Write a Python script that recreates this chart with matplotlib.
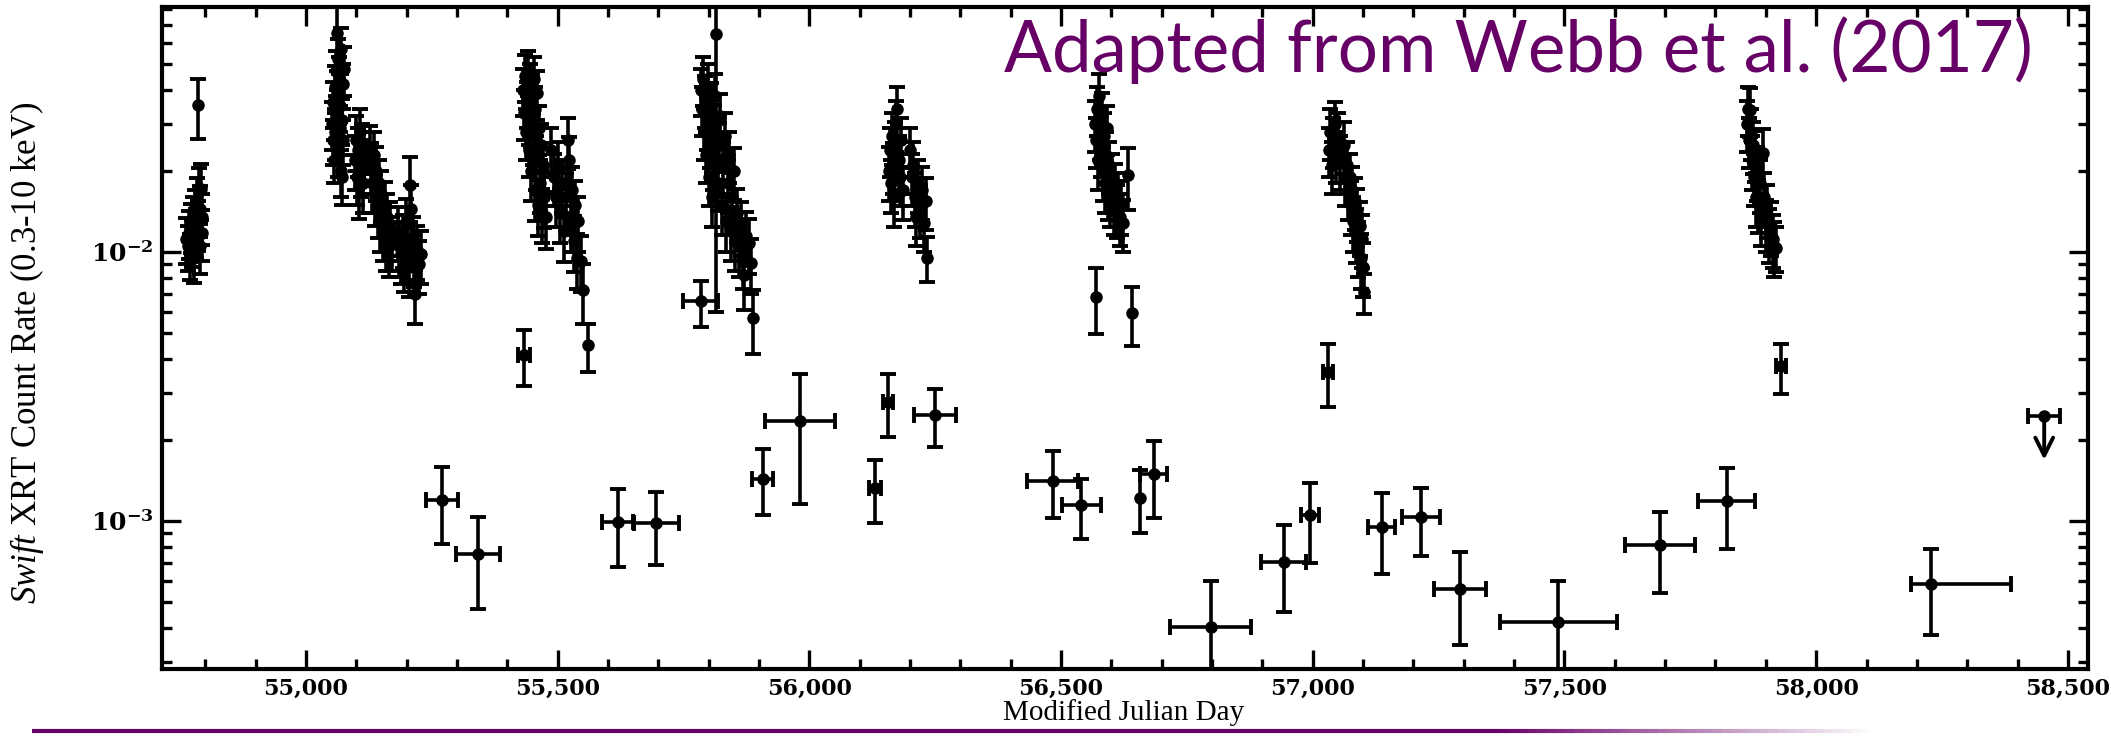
"""
HLX-1 Swift XRT light curve, redrawn after Webb et al. (2017).
"""

import numpy as np
import matplotlib
matplotlib.use("Agg")
import matplotlib.pyplot as plt
from matplotlib.ticker import MultipleLocator, FuncFormatter, LogLocator, NullFormatter
from matplotlib.collections import LineCollection

# ---------------------------------------------------------------------------
# Data: (MJD, count rate, 1-sigma error) per outburst
# ---------------------------------------------------------------------------
OUTBURST_2008 = [
    (54762, 0.0112, 0.0022), (54765, 0.0105, 0.0020), (54768, 0.0118, 0.0024),
    (54770, 0.0098, 0.0019), (54772, 0.0125, 0.0026), (54774, 0.0110, 0.0022),
    (54776, 0.0132, 0.0028), (54778, 0.0095, 0.0018), (54780, 0.0140, 0.0030),
    (54782, 0.0120, 0.0025), (54784, 0.0155, 0.0034), (54785, 0.0351, 0.0088),
    (54786, 0.0128, 0.0027), (54788, 0.0168, 0.0038), (54789, 0.0105, 0.0022),
    (54790, 0.0145, 0.0031), (54792, 0.0172, 0.0040), (54793, 0.0118, 0.0025),
    (54794, 0.0135, 0.0029),
]

OUTBURST_2009 = [
    (55052, 0.030, 0.006), (55053, 0.026, 0.005), (55054, 0.036, 0.007),
    (55056, 0.022, 0.004), (55057, 0.041, 0.008), (55058, 0.028, 0.006),
    (55060, 0.047, 0.009), (55061, 0.033, 0.007), (55062, 0.065, 0.018),
    (55063, 0.024, 0.005), (55064, 0.052, 0.010), (55065, 0.038, 0.008),
    (55066, 0.044, 0.009), (55067, 0.029, 0.006), (55068, 0.035, 0.007),
    (55069, 0.020, 0.004), (55070, 0.057, 0.011), (55071, 0.031, 0.006),
    (55072, 0.019, 0.004), (55073, 0.042, 0.008), (55074, 0.026, 0.005),
    (55075, 0.048, 0.010),
    (55098, 0.022, 0.005), (55100, 0.026, 0.006), (55102, 0.019, 0.004),
    (55104, 0.024, 0.005), (55106, 0.0175, 0.0042), (55108, 0.028, 0.006),
    (55110, 0.021, 0.005), (55112, 0.025, 0.005), (55114, 0.018, 0.004),
    (55116, 0.023, 0.005),
    (55128, 0.0245, 0.005), (55130, 0.021, 0.0045), (55132, 0.018, 0.004),
    (55135, 0.023, 0.005), (55138, 0.016, 0.0035), (55140, 0.020, 0.0045),
    (55143, 0.0145, 0.0032), (55146, 0.018, 0.004), (55148, 0.013, 0.003),
    (55150, 0.0165, 0.0036), (55153, 0.012, 0.0027), (55156, 0.015, 0.0033),
    (55158, 0.011, 0.0025), (55161, 0.0135, 0.003), (55164, 0.0105, 0.0024),
    (55167, 0.0125, 0.0028), (55170, 0.011, 0.0025),
    (55182, 0.0120, 0.0027), (55185, 0.0105, 0.0024), (55188, 0.0098, 0.0022),
    (55192, 0.0112, 0.0025), (55195, 0.0092, 0.0021), (55198, 0.0128, 0.0029),
    (55201, 0.0100, 0.0023), (55204, 0.0088, 0.0020), (55206, 0.0177, 0.0048),
    (55209, 0.0145, 0.0033), (55212, 0.0110, 0.0025), (55214, 0.0095, 0.0021),
    (55216, 0.0070, 0.0016), (55220, 0.0102, 0.0023), (55224, 0.0090, 0.0020),
    (55228, 0.0098, 0.0022),
]

OUTBURST_2010 = [
    (55432, 0.040, 0.008), (55434, 0.033, 0.007), (55436, 0.045, 0.009),
    (55438, 0.028, 0.006), (55440, 0.036, 0.007), (55441, 0.047, 0.009),
    (55443, 0.024, 0.005), (55444, 0.031, 0.006), (55446, 0.042, 0.008),
    (55448, 0.020, 0.0045), (55449, 0.038, 0.008), (55451, 0.027, 0.006),
    (55452, 0.044, 0.009), (55454, 0.017, 0.004), (55455, 0.034, 0.007),
    (55457, 0.022, 0.005), (55459, 0.039, 0.008), (55460, 0.015, 0.0035),
    (55462, 0.029, 0.006), (55464, 0.018, 0.004), (55466, 0.025, 0.005),
    (55468, 0.014, 0.0032), (55470, 0.021, 0.0045), (55473, 0.016, 0.0037),
    (55476, 0.0135, 0.0032),
    (55487, 0.024, 0.005), (55492, 0.019, 0.0042), (55496, 0.016, 0.0036),
    (55500, 0.021, 0.0046), (55505, 0.014, 0.0032), (55508, 0.018, 0.004),
    (55512, 0.012, 0.0028), (55516, 0.016, 0.0036), (55520, 0.026, 0.0056),
    (55523, 0.022, 0.0048), (55526, 0.013, 0.003), (55529, 0.017, 0.0038),
    (55532, 0.011, 0.0026), (55535, 0.015, 0.0034), (55538, 0.0095, 0.0022),
    (55541, 0.013, 0.003), (55546, 0.0093, 0.0022), (55550, 0.0072, 0.0018),
]

OUTBURST_2011 = [
    (55785, 0.040, 0.008), (55787, 0.034, 0.007), (55789, 0.044, 0.009),
    (55791, 0.028, 0.006), (55793, 0.037, 0.008), (55795, 0.023, 0.005),
    (55797, 0.031, 0.007), (55799, 0.041, 0.009), (55801, 0.019, 0.0042),
    (55803, 0.026, 0.0055), (55805, 0.035, 0.0075), (55807, 0.016, 0.0036),
    (55809, 0.022, 0.005), (55811, 0.029, 0.0062), (55813, 0.038, 0.008),
    (55815, 0.0646, 0.0586), (55818, 0.018, 0.0038), (55820, 0.025, 0.0052),
    (55823, 0.032, 0.0068), (55826, 0.015, 0.0034), (55829, 0.021, 0.0046),
    (55832, 0.027, 0.0058), (55835, 0.013, 0.003), (55838, 0.018, 0.004),
    (55841, 0.023, 0.005), (55844, 0.012, 0.0027), (55847, 0.016, 0.0036),
    (55850, 0.020, 0.0044), (55853, 0.011, 0.0025), (55856, 0.014, 0.0032),
    (55860, 0.0105, 0.0024), (55864, 0.0125, 0.0028), (55868, 0.0095, 0.0022),
    (55870, 0.0082, 0.0021), (55875, 0.0115, 0.0026), (55880, 0.0108, 0.0025),
    (55885, 0.0091, 0.0021),
]

OUTBURST_2012 = [
    (56158, 0.020, 0.0045), (56160, 0.024, 0.005), (56162, 0.018, 0.004),
    (56164, 0.027, 0.006), (56166, 0.021, 0.0045), (56168, 0.016, 0.0036),
    (56170, 0.025, 0.0055), (56172, 0.030, 0.0065), (56175, 0.034, 0.007),
    (56178, 0.022, 0.005), (56180, 0.019, 0.0042), (56183, 0.026, 0.0055),
    (56186, 0.017, 0.0038), (56200, 0.024, 0.005), (56203, 0.019, 0.0042),
    (56206, 0.021, 0.0046), (56209, 0.016, 0.0036), (56212, 0.0135, 0.003),
    (56216, 0.018, 0.004), (56220, 0.0145, 0.0032), (56224, 0.017, 0.0038),
    (56228, 0.0128, 0.0028), (56232, 0.0155, 0.0034),
]

OUTBURST_2013 = [
    (56568, 0.030, 0.0065), (56570, 0.026, 0.0055), (56572, 0.034, 0.007),
    (56574, 0.022, 0.005), (56576, 0.038, 0.008), (56578, 0.028, 0.006),
    (56580, 0.024, 0.005), (56582, 0.032, 0.007), (56584, 0.020, 0.0045),
    (56586, 0.027, 0.006), (56588, 0.018, 0.004), (56590, 0.023, 0.005),
    (56592, 0.029, 0.006), (56594, 0.017, 0.0038), (56596, 0.021, 0.0046),
    (56598, 0.016, 0.0036), (56602, 0.019, 0.0042), (56605, 0.015, 0.0034),
    (56608, 0.0175, 0.0038), (56611, 0.0145, 0.0032), (56614, 0.016, 0.0036),
    (56617, 0.0135, 0.003), (56620, 0.015, 0.0034), (56624, 0.0128, 0.0028),
    (56632, 0.0193, 0.005),
]

OUTBURST_2015 = [
    (57032, 0.024, 0.005), (57035, 0.028, 0.006), (57038, 0.021, 0.0046),
    (57041, 0.026, 0.0055), (57044, 0.030, 0.006), (57047, 0.023, 0.005),
    (57050, 0.027, 0.006), (57055, 0.022, 0.005), (57062, 0.025, 0.0055),
    (57065, 0.019, 0.0042), (57068, 0.021, 0.0046), (57070, 0.017, 0.0038),
    (57073, 0.019, 0.0042), (57075, 0.015, 0.0034), (57078, 0.017, 0.0038),
    (57080, 0.013, 0.003), (57083, 0.0155, 0.0034), (57085, 0.0118, 0.0027),
    (57088, 0.014, 0.0031), (57090, 0.0105, 0.0024), (57093, 0.0125, 0.0028),
    (57095, 0.0095, 0.0022), (57098, 0.0112, 0.0025), (57100, 0.0088, 0.002),
    (57102, 0.0071, 0.0012),
]

OUTBURST_2017 = [
    (57862, 0.030, 0.0065), (57864, 0.034, 0.007), (57866, 0.026, 0.0055),
    (57868, 0.0337, 0.007), (57870, 0.028, 0.006), (57872, 0.022, 0.005),
    (57874, 0.025, 0.0055), (57876, 0.019, 0.0042), (57878, 0.0233, 0.005),
    (57880, 0.016, 0.0036), (57882, 0.020, 0.0045), (57885, 0.0152, 0.0034),
    (57888, 0.018, 0.004), (57890, 0.0135, 0.003), (57894, 0.0233, 0.0055),
    (57897, 0.016, 0.0036), (57900, 0.0128, 0.0028), (57903, 0.0145, 0.0032),
    (57906, 0.0118, 0.0027), (57910, 0.0125, 0.0028), (57914, 0.0112, 0.0025),
    (57916, 0.0105, 0.0024), (57920, 0.0104, 0.002),
]

# Low-state / stacked points:
# (MJD, rate, rate lower bound, rate upper bound, MJD minus, MJD plus)
LOW_STATE = [
    (55270, 1.20e-3, 8.2e-4, 1.59e-3, 32, 32),
    (55342, 7.53e-4, 4.71e-4, 1.04e-3, 44, 44),
    (55433, 4.13e-3, 3.18e-3, 5.13e-3, 12, 12),
    (55560, 4.50e-3, 3.59e-3, 5.40e-3, 0, 0),
    (55619, 9.93e-4, 6.73e-4, 1.32e-3, 30, 30),
    (55696, 9.80e-4, 6.85e-4, 1.28e-3, 45, 45),
    (55784, 6.58e-3, 5.25e-3, 7.82e-3, 35, 35),
    (55889, 5.67e-3, 4.17e-3, 7.22e-3, 0, 0),
    (55907, 1.44e-3, 1.05e-3, 1.85e-3, 21, 21),
    (55981, 2.36e-3, 1.16e-3, 3.52e-3, 69, 69),
    (56130, 1.33e-3, 9.8e-4, 1.69e-3, 12, 12),
    (56156, 2.78e-3, 2.06e-3, 3.52e-3, 10, 10),
    (56234, 9.47e-3, 7.71e-3, 1.14e-2, 0, 0),
    (56250, 2.49e-3, 1.89e-3, 3.10e-3, 42, 42),
    (56483, 1.41e-3, 1.03e-3, 1.82e-3, 50, 50),
    (56540, 1.15e-3, 8.55e-4, 1.44e-3, 39, 39),
    (56570, 6.82e-3, 4.95e-3, 8.74e-3, 0, 0),
    (56641, 5.94e-3, 4.48e-3, 7.43e-3, 0, 0),
    (56657, 1.22e-3, 9.06e-4, 1.55e-3, 0, 0),
    (56684, 1.50e-3, 1.03e-3, 1.99e-3, 27, 27),
    (56797, 4.05e-4, 2.50e-4, 5.98e-4, 81, 81),
    (56942, 7.06e-4, 4.60e-4, 9.66e-4, 44, 44),
    (56994, 1.05e-3, 7.00e-4, 1.39e-3, 18, 18),
    (57030, 3.59e-3, 2.66e-3, 4.54e-3, 10, 10),
    (57137, 9.53e-4, 6.35e-4, 1.27e-3, 27, 27),
    (57215, 1.04e-3, 7.41e-4, 1.33e-3, 37, 37),
    (57293, 5.57e-4, 3.46e-4, 7.69e-4, 52, 52),
    (57488, 4.23e-4, 2.50e-4, 5.98e-4, 116, 116),
    (57690, 8.15e-4, 5.41e-4, 1.08e-3, 70, 70),
    (57822, 1.19e-3, 7.91e-4, 1.58e-3, 57, 57),
    (57930, 3.77e-3, 2.98e-3, 4.55e-3, 10, 10),
    (58228, 5.82e-4, 3.77e-4, 7.86e-4, 40, 160),
]

# 3-sigma upper limit (MJD, rate, MJD half-width, arrow tip)
UPPER_LIMIT = (58453, 2.45e-3, 32, 1.69e-3)

X_RANGE = (54714, 58540)
Y_RANGE = (2.82e-4, 0.0815)

TITLE = "Adapted from Webb et al. (2017)"
XLABEL = "Modified Julian Day"
YLABEL = r"$\mathit{Swift}$ XRT Count Rate (0.3-10 keV)"
PURPLE = "#660066"

# ---------------------------------------------------------------------------

plt.rcParams["font.family"] = "DejaVu Serif"
plt.rcParams["font.weight"] = "bold"
plt.rcParams["mathtext.fontset"] = "custom"
plt.rcParams["mathtext.rm"] = "DejaVu Serif"
plt.rcParams["mathtext.bf"] = "DejaVu Serif:bold"
plt.rcParams["mathtext.it"] = "Liberation Serif:style=italic:weight=regular"

fig = plt.figure(figsize=(21.11, 7.36), dpi=100)
ax = fig.add_axes([162 / 2111, 67 / 736, 1926 / 2111, 662 / 736])

bright = np.array(OUTBURST_2008 + OUTBURST_2009 + OUTBURST_2010 + OUTBURST_2011
                  + OUTBURST_2012 + OUTBURST_2013 + OUTBURST_2015 + OUTBURST_2017)
eb_style = dict(color="k", ecolor="k", elinewidth=2.6, capsize=6, capthick=2.8)

ax.errorbar(bright[:, 0], bright[:, 1], yerr=bright[:, 2], fmt="o", ms=8,
            **eb_style)

low = np.array(LOW_STATE)
yerr = [low[:, 1] - low[:, 2], low[:, 3] - low[:, 1]]
ax.errorbar(low[:, 0], low[:, 1], yerr=yerr, fmt="o", ms=8, **eb_style)
has_x = (low[:, 4] + low[:, 5]) > 0
ax.errorbar(low[has_x, 0], low[has_x, 1], xerr=[low[has_x, 4], low[has_x, 5]],
            fmt="none", **eb_style)

ul_x, ul_y, ul_dx, ul_tip = UPPER_LIMIT
ax.errorbar([ul_x], [ul_y], xerr=[ul_dx], fmt="o", ms=8, **eb_style)
ax.annotate("", xy=(ul_x, ul_tip), xytext=(ul_x, ul_y),
            arrowprops=dict(arrowstyle="->", color="k", lw=2.8,
                            mutation_scale=32, shrinkA=0, shrinkB=0))

ax.set_yscale("log")
ax.set_xlim(*X_RANGE)
ax.set_ylim(*Y_RANGE)

ax.xaxis.set_major_locator(MultipleLocator(500))
ax.xaxis.set_minor_locator(MultipleLocator(100))
ax.xaxis.set_major_formatter(FuncFormatter(lambda v, p: f"{v:,.0f}"))
ax.yaxis.set_major_locator(LogLocator(base=10))
ax.yaxis.set_minor_locator(LogLocator(base=10, subs=np.arange(2, 10)))
ax.yaxis.set_major_formatter(
    FuncFormatter(lambda v, p: r"$\mathbf{10^{%d}}$" % round(np.log10(v))))
ax.yaxis.set_minor_formatter(NullFormatter())

ax.tick_params(which="both", direction="in", top=True, right=True, width=2.4)
ax.tick_params(which="major", length=14)
ax.tick_params(which="minor", length=7)
ax.tick_params(axis="x", labelsize=16, pad=6)
ax.tick_params(axis="y", labelsize=18, pad=6)
for s in ax.spines.values():
    s.set_linewidth(3)

fig.text(27 / 2111, 1 - 353 / 736, YLABEL, rotation=90, ha="center",
         va="center", family="Liberation Serif", fontweight="normal",
         fontsize=25)
fig.text(1124 / 2111, 1 - 713 / 736, XLABEL, ha="center", va="center",
         family="Liberation Serif", fontweight="normal", fontsize=21)

fig.text(2033 / 2111, 1 - 72 / 736, TITLE, ha="right", va="baseline",
         family="Lato", fontweight="normal", fontsize=51, color=PURPLE)

# purple rule under the figure, fading out to the right
xs = np.linspace(32 / 2111, 1870 / 2111, 200)
segs = [[(xs[i], 1 - 731 / 736), (xs[i + 1], 1 - 731 / 736)] for i in range(len(xs) - 1)]
fade = np.clip((1870 / 2111 - xs[:-1]) / (380 / 2111), 0, 1)
cols = [(0.4, 0.0, 0.4, a) for a in fade]
fig.add_artist(LineCollection(segs, colors=cols, linewidths=3,
                              transform=fig.transFigure))

fig.savefig("out.png", dpi=100)
